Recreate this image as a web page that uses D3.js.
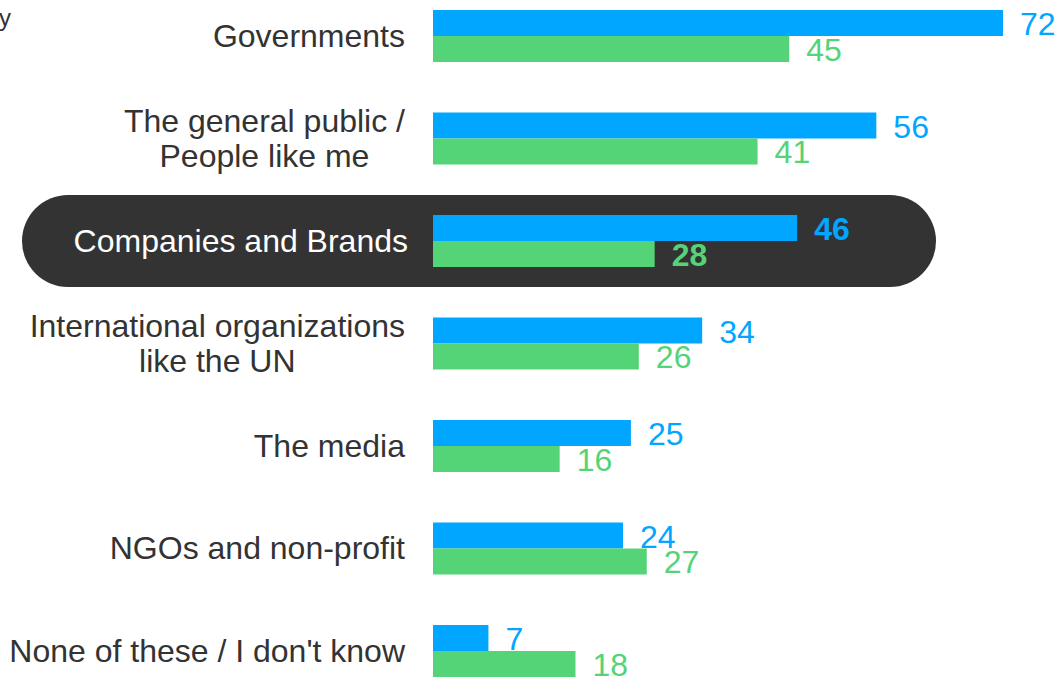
<!DOCTYPE html>
<html>
<head>
<meta charset="utf-8">
<script src="https://cdn.jsdelivr.net/npm/d3@7"></script>
<style>
  html, body { margin: 0; padding: 0; background: #fff; }
  svg { display: block; font-family: "Liberation Sans", Arial, sans-serif; }
</style>
</head>
<body>
<svg id="chart" width="1056" height="678"></svg>
<script>
// Who is responsible — two survey waves per answer
const categories = [
  ["Governments"],
  ["The general public /", "People like me"],
  ["Companies and Brands"],
  ["International organizations", "like the UN"],
  ["The media"],
  ["NGOs and non-profit"],
  ["None of these / I don't know"]
];
const seriesNames = ["blue", "green"];
const blueValues  = [72, 56, 46, 34, 25, 24, 7];
const greenValues = [45, 41, 28, 26, 16, 27, 18];
const highlighted = "Companies and Brands";

const colors = { blue: "#00A6FF", green: "#55D377" };

const svg = d3.select("#chart");

const keys = categories.map(c => c.join(" "));
const rows = keys.map((k, i) => ({
  key: k, lines: categories[i],
  values: [{ s: "blue", v: blueValues[i] }, { s: "green", v: greenValues[i] }]
}));

const y = d3.scaleBand().domain(keys).range([10, 677]).paddingInner(0.4927).paddingOuter(0).align(0);
const ySub = d3.scaleBand().domain(seriesNames).range([0, y.bandwidth()]);
const x = d3.scaleLinear().domain([0, 72]).range([433, 1003]);

// clipped heading fragment
svg.append("text").attr("x", -1).attr("y", 26)
  .attr("font-size", 24).attr("fill", "#333").text("y");

// highlight pill behind the focus row
const hy = y(highlighted) + y.bandwidth() / 2;
svg.append("rect")
  .attr("x", 22).attr("y", hy - 46).attr("width", 914).attr("height", 92)
  .attr("rx", 46).attr("ry", 46).attr("fill", "#333333");

const g = svg.selectAll("g.row").data(rows).join("g").attr("class", "row")
  .attr("transform", d => `translate(0,${y(d.key)})`);

g.selectAll("rect.bar").data(d => d.values).join("rect").attr("class", "bar")
  .attr("x", x(0)).attr("y", d => ySub(d.s))
  .attr("width", d => x(d.v) - x(0)).attr("height", ySub.bandwidth())
  .attr("fill", d => colors[d.s]);

g.each(function (row) {
  const hl = row.key === highlighted;
  const sel = d3.select(this);
  sel.selectAll("text.val").data(row.values).join("text").attr("class", "val")
    .attr("x", d => x(d.v) + 17)
    .attr("y", d => ySub(d.s) + ySub.bandwidth() - 1)
    .attr("font-size", 32)
    .attr("font-weight", hl ? "bold" : "normal")
    .attr("fill", d => colors[d.s])
    .text(d => d.v);

  // category label: right-aligned block, lines centered within it
  const cy = y.bandwidth() / 2;
  const lh = 35;
  const t = sel.append("text").attr("font-size", 32)
    .attr("fill", hl ? "#ffffff" : "#333333").attr("text-anchor", "middle");
  const n = row.lines.length;
  row.lines.forEach((line, i) => {
    t.append("tspan").attr("x", 0)
      .attr("y", cy + 11 + (i - (n - 1) / 2) * lh).text(line);
  });
  let maxW = 0;
  t.selectAll("tspan").each(function () { maxW = Math.max(maxW, this.getComputedTextLength()); });
  const right = hl ? 408 : 405;
  t.selectAll("tspan").attr("x", right - maxW / 2);
});
</script>
</body>
</html>
